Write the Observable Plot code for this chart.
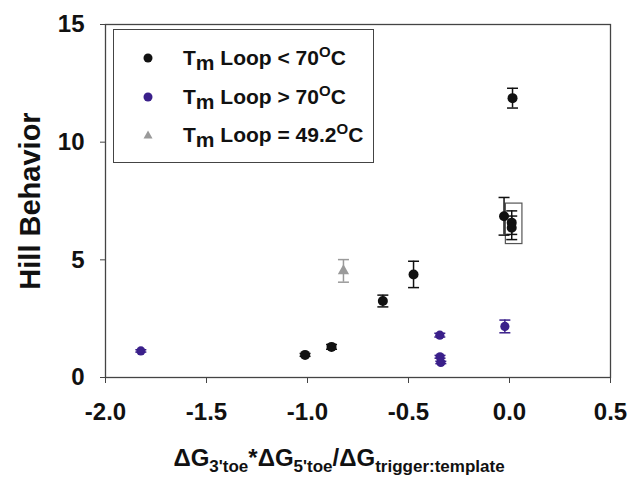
<!DOCTYPE html>
<html>
<head>
<meta charset="utf-8">
<script src="https://cdn.jsdelivr.net/npm/d3@7"></script>
<script src="https://cdn.jsdelivr.net/npm/@observablehq/plot@0.6"></script>
<style>
  html, body { margin: 0; padding: 0; background: #fff; }
  #wrap { position: relative; width: 633px; height: 481px; font-family: "Liberation Sans", Arial, sans-serif; font-weight: bold; color: #111; }
  #wrap svg.plot { position: absolute; left: 0; top: 0; }
  #legend { position: absolute; left: 113px; top: 29px; width: 259px; height: 132px; border: 1.5px solid #444; background: #fff; }
  .item { position: absolute; left: 0; height: 24px; width: 259px; }
  .item svg { position: absolute; left: 26px; top: 4px; }
  .item .lab { position: absolute; left: 69px; top: 0; font-size: 21px; line-height: 24px; white-space: nowrap; }
  .lab .sub { font-size: 21px; position: relative; top: 5px; }
  .lab .sup { font-size: 15px; position: relative; top: -8px; }
  #xlabel { position: absolute; left: 0; width: 678px; top: 445px; text-align: center; font-size: 24px; line-height: 26px; white-space: nowrap; }
  #xlabel .s { font-size: 17px; position: relative; top: 6px; }
</style>
</head>
<body>
<div id="wrap"></div>
<script>
// Series: Tm Loop < 70°C (black)
const blackX   = [-1.012, -0.881, -0.627, -0.475, -0.027, 0.011, 0.011, 0.015];
const blackY   = [0.96, 1.30, 3.25, 4.38, 6.85, 6.58, 6.36, 11.87];
const blackErr = [0.06, 0.10, 0.25, 0.56, 0.80, 0.50, 0.50, 0.42];
// Series: Tm Loop > 70°C (purple)
const purpleX   = [-1.825, -0.345, -0.344, -0.340, -0.023];
const purpleY   = [1.13, 1.80, 0.88, 0.64, 2.17];
const purpleErr = [0.05, 0.08, 0.06, 0.05, 0.27];
// Series: Tm Loop = 49.2°C (gray triangle)
const grayX   = [-0.822];
const grayY   = [4.53];
const grayErr = [0.48];
// Annotation box around the clustered points
const boxX = [-0.018, 0.064];
const boxY = [5.67, 7.39];
// Axis ticks and titles
const xTicks = [-2.0, -1.5, -1.0, -0.5, 0.0, 0.5];
const yTicks = [0, 5, 10, 15];
const yTitle = "Hill Behavior";

const BLACK = "#111111", PURPLE = "#3a1f8a", GRAY = "#9a9a9a";

const toRows = (xs, ys, es, color) => xs.map((x, i) => ({x, y: ys[i], e: es[i], color}));
const black = toRows(blackX, blackY, blackErr, BLACK);
const purple = toRows(purpleX, purpleY, purpleErr, PURPLE);
const gray = toRows(grayX, grayY, grayErr, GRAY);
const all = [...black, ...purple, ...gray];

const cap = {
  draw(context, size) {
    const r = Math.sqrt(size / Math.PI);
    context.moveTo(-r, 0);
    context.lineTo(r, 0);
  }
};

const chart = Plot.plot({
  width: 633,
  height: 440,
  marginLeft: 105,
  marginRight: 23,
  marginTop: 24,
  marginBottom: 63,
  style: {fontFamily: "'Liberation Sans', Arial, sans-serif", fontWeight: "bold", color: "#111", background: "transparent"},
  x: {domain: [-2, 0.5]},
  y: {domain: [0, 15]},
  color: {type: "identity"},
  marks: [
    Plot.frame({stroke: "#444", strokeWidth: 1.3}),
    Plot.axisX({ticks: xTicks, tickFormat: d => d.toFixed(1), tickSize: 6, tickPadding: 19, fontSize: 24, label: null, stroke: "#444"}),
    Plot.axisY({ticks: yTicks, tickFormat: d => String(d), tickSize: 5, tickPadding: 16, fontSize: 24, stroke: "#444", label: null}),
    Plot.text([yTitle], {text: d => d, frameAnchor: "left", textAnchor: "middle", rotate: -90, dx: -75, fontSize: 29, fontWeight: "bold", fill: "#111"}),
    Plot.rect([{x1: boxX[0], x2: boxX[1], y1: boxY[0], y2: boxY[1]}],
      {x1: "x1", x2: "x2", y1: "y1", y2: "y2", fill: "none", stroke: "#555", strokeWidth: 1.2}),
    Plot.ruleX(all, {x: "x", y1: d => d.y - d.e, y2: d => d.y + d.e, stroke: "color", strokeWidth: 1.5}),
    Plot.dot(all, {x: "x", y: d => d.y + d.e, symbol: cap, r: 5.5, fill: "none", stroke: "color", strokeWidth: 1.5}),
    Plot.dot(all, {x: "x", y: d => d.y - d.e, symbol: cap, r: 5.5, fill: "none", stroke: "color", strokeWidth: 1.5}),
    Plot.dot(black, {x: "x", y: "y", r: 5, fill: "color", stroke: "none"}),
    Plot.dot(purple, {x: "x", y: "y", r: 4.6, fill: "color", stroke: "none"}),
    Plot.dot(gray, {x: "x", y: "y", symbol: "triangle", r: 4.2, fill: "color", stroke: "none"})
  ]
});
chart.classList.add("plot");

const wrap = document.getElementById("wrap");
wrap.appendChild(chart);

// Legend (inside the plot frame, top-left)
const legendItems = [
  {shape: "circle", color: BLACK, rel: "<", val: "70"},
  {shape: "circle", color: PURPLE, rel: ">", val: "70"},
  {shape: "triangle", color: GRAY, rel: "=", val: "49.2"}
];
const legend = document.createElement("div");
legend.id = "legend";
legendItems.forEach((it, i) => {
  const row = document.createElement("div");
  row.className = "item";
  row.style.top = (16 + i * 38.5) + "px";
  const sym = it.shape === "circle"
    ? `<circle cx="8" cy="8" r="4.5" fill="${it.color}"/>`
    : `<path d="M8,3.5 L12.5,11.5 L3.5,11.5 Z" fill="${it.color}"/>`;
  row.innerHTML = `<svg width="16" height="16">${sym}</svg>` +
    `<span class="lab">T<span class="sub">m</span> Loop ${it.rel === "<" ? "&lt;" : it.rel === ">" ? "&gt;" : "="} ${it.val}<span class="sup">O</span>C</span>`;
  legend.appendChild(row);
});
wrap.appendChild(legend);

// X axis title with subscripts
const xl = document.createElement("div");
xl.id = "xlabel";
xl.innerHTML = `ΔG<span class="s">3'toe</span>*ΔG<span class="s">5'toe</span>/ΔG<span class="s">trigger:template</span>`;
wrap.appendChild(xl);
</script>
</body>
</html>
